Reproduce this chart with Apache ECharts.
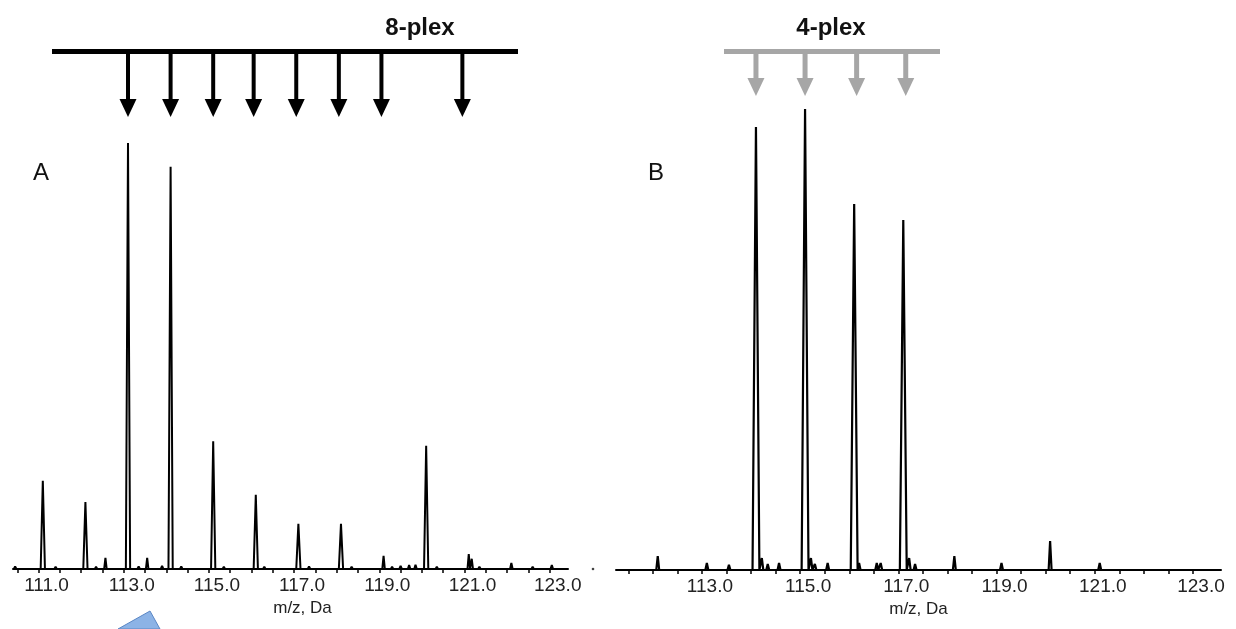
<!DOCTYPE html>
<html>
<head>
<meta charset="utf-8">
<script src="https://cdn.jsdelivr.net/npm/echarts@6.0.0/dist/echarts.min.js"></script>
<style>
  html, body { margin: 0; padding: 0; background: #fff; }
  #main { width: 1236px; height: 629px; }
</style>
</head>
<body>
<div id="main"></div>
<script>
// peaks: [m/z, relative intensity %]
var peaksA = [
    [111.1, 20.7], [112.1, 15.7], [112.57, 2.6], [113.1, 100], [113.55, 2.6],
    [114.1, 94.4], [115.1, 30.0], [116.1, 17.4], [117.1, 10.6], [118.1, 10.6],
    [119.1, 3.1], [120.1, 28.9], [121.1, 3.5], [121.17, 2.4], [122.1, 1.4], [123.05, 0.9]
];
// baseline noise in panel A
var noiseA = [
    [110.45, 0.6], [110.6, 0.4], [110.85, 0.3], [111.4, 0.5], [111.6, 0.3], [111.85, 0.4],
    [112.35, 0.5], [112.8, 0.3], [113.35, 0.6], [113.75, 0.4], [113.9, 0.7], [114.35, 0.6],
    [114.5, 0.4], [114.75, 0.3], [115.35, 0.5], [115.6, 0.3], [115.85, 0.4], [116.3, 0.5],
    [116.55, 0.3], [116.8, 0.4], [117.35, 0.6], [117.6, 0.3], [117.85, 0.4], [118.35, 0.5],
    [118.6, 0.3], [118.85, 0.4], [119.3, 0.5], [119.5, 0.7], [119.7, 0.9], [119.85, 1.0],
    [120.35, 0.5], [120.6, 0.3], [120.85, 0.4], [121.35, 0.5], [121.6, 0.3], [121.85, 0.4],
    [122.35, 0.3], [122.6, 0.5], [122.85, 0.3], [123.3, 0.4]
];
var peaksB = [
    [112.1, 3.0], [113.1, 1.5], [113.55, 1.1], [114.1, 96.1], [114.22, 2.6], [114.34, 1.3],
    [114.57, 1.5], [115.1, 100], [115.22, 2.6], [115.3, 1.3], [115.56, 1.5], [116.1, 79.4],
    [116.2, 1.5], [116.56, 1.5], [116.64, 1.5], [117.1, 75.9], [117.22, 2.6], [117.34, 1.3],
    [118.14, 3.0], [119.1, 1.5], [120.09, 6.3], [121.1, 1.5]
];
// reporter ion arrows
var plex8 = [113.1, 114.1, 115.1, 116.05, 117.05, 118.05, 119.05, 120.95];
var plex4 = [114.1, 115.1, 116.15, 117.15];
// axis labels
var labelsA = [111, 113, 115, 117, 119, 121, 123];
var labelsB = [113, 115, 117, 119, 121, 123];

var font = 'Liberation Sans, Arial, sans-serif';

// each peak drawn as a narrow spike; tall peaks a bit wider at the foot
function spectrum(peaks, wide, narrow) {
    var pts = [];
    peaks.slice().sort(function (a, b) { return a[0] - b[0]; }).forEach(function (p) {
        var half = p[1] > 10 ? wide : narrow;
        pts.push([p[0] - half, 0], [p[0], p[1]], [p[0] + half, 0]);
    });
    return pts;
}

function halfTicks(from, to) {
    var res = [];
    for (var v = from; v <= to + 1e-9; v += 0.5) res.push(v);
    return res;
}

function xAxisOf(idx, min, max, labels, ticks, namePad) {
    return {
        gridIndex: idx,
        type: 'value',
        min: min,
        max: max,
        name: 'm/z, Da',
        nameLocation: 'middle',
        nameGap: 31,
        nameTextStyle: { color: '#222', fontSize: 17, fontFamily: font, padding: [0, 0, 0, namePad] },
        axisLine: { show: true, onZero: false, lineStyle: { color: '#000', width: 2 } },
        axisTick: { show: true, length: 4, lineStyle: { color: '#000', width: 1.5 }, customValues: ticks },
        axisLabel: {
            show: true,
            color: '#222',
            fontSize: 19,
            fontFamily: font,
            margin: 7,
            padding: [0, 0, 0, 16],
            customValues: labels,
            formatter: function (v) { return v.toFixed(1); }
        },
        splitLine: { show: false }
    };
}

function arrows(idx, list, color, shaft, y0, y1, y2, headW) {
    return {
        type: 'custom',
        xAxisIndex: idx,
        yAxisIndex: idx,
        silent: true,
        clip: false,
        data: list.map(function (m) { return [m, 0]; }),
        renderItem: function (params, api) {
            var x = api.coord([api.value(0), 0])[0];
            return {
                type: 'group',
                children: [{
                    type: 'rect',
                    shape: { x: x - shaft / 2, y: y0, width: shaft, height: y1 - y0 + 1 },
                    style: { fill: color }
                }, {
                    type: 'polygon',
                    shape: { points: [[x - headW / 2, y1], [x + headW / 2, y1], [x, y2]] },
                    style: { fill: color }
                }]
            };
        }
    };
}

var mychart = echarts.init(document.getElementById('main'));

var option = {
    animation: false,
    backgroundColor: '#fff',
    grid: [{
        left: 13, width: 555, top: 143, bottom: 60
    }, {
        left: 616, width: 605, top: 109, bottom: 59
    }],
    xAxis: [
        xAxisOf(0, 110.4, 123.43, labelsA, halfTicks(110.5, 123), 24),
        xAxisOf(1, 111.25, 123.57, labelsB, halfTicks(111.5, 123), 0)
    ],
    yAxis: [
        { gridIndex: 0, type: 'value', min: 0, max: 100, show: false },
        { gridIndex: 1, type: 'value', min: 0, max: 100, show: false }
    ],
    series: [{
        name: '8-plex',
        type: 'line',
        xAxisIndex: 0,
        yAxisIndex: 0,
        clip: false,
        showSymbol: false,
        data: spectrum(peaksA.concat(noiseA), 0.05, 0.03),
        lineStyle: { color: '#000', width: 2 }
    }, {
        name: '4-plex',
        type: 'line',
        xAxisIndex: 1,
        yAxisIndex: 1,
        clip: false,
        showSymbol: false,
        data: spectrum(peaksB, 0.07, 0.03),
        lineStyle: { color: '#000', width: 2.2 }
    },
    arrows(0, plex8, '#000', 4, 52, 99, 117, 17),
    arrows(1, plex4, '#a6a6a6', 5, 52, 78, 96, 17)
    ],
    graphic: [
        { type: 'rect', shape: { x: 52, y: 49, width: 466, height: 5 }, style: { fill: '#000' } },
        { type: 'text', x: 420, y: 28, style: { text: '8-plex', fill: '#111', font: 'bold 24px ' + font, align: 'center', verticalAlign: 'middle' } },
        { type: 'rect', shape: { x: 724, y: 49, width: 216, height: 5 }, style: { fill: '#a6a6a6' } },
        { type: 'text', x: 831, y: 28, style: { text: '4-plex', fill: '#111', font: 'bold 24px ' + font, align: 'center', verticalAlign: 'middle' } },
        { type: 'text', x: 41, y: 173, style: { text: 'A', fill: '#111', font: '24px ' + font, align: 'center', verticalAlign: 'middle' } },
        { type: 'text', x: 656, y: 173, style: { text: 'B', fill: '#111', font: '24px ' + font, align: 'center', verticalAlign: 'middle' } },
        { type: 'circle', shape: { cx: 593, cy: 569, r: 1.3 }, style: { fill: '#444' } },
        { type: 'polygon', shape: { points: [[118, 629], [150, 611], [160, 629]] }, style: { fill: '#8cb3e6', stroke: '#5a86c4', lineWidth: 1 } }
    ]
};

mychart.setOption(option);
</script>
</body>
</html>
